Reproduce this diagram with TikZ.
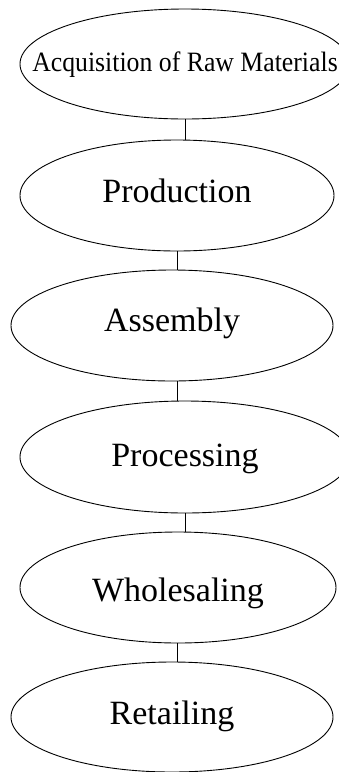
\documentclass[tikz,border=0pt]{standalone}
\usepackage{fontspec}
\setmainfont{Liberation Serif}
\usetikzlibrary{shapes.geometric}
\tikzset{
  stage/.style={draw, ellipse, line width=0.9pt, inner sep=0pt, text height=10pt, text depth=10pt,
    font=\fontsize{34}{40}\selectfont},
  smallstage/.style={stage, font=\fontsize{28}{32}\selectfont},
  link/.style={draw, line width=0.9pt}
}
\newcommand{\zw}[2]{\raisebox{-#1pt}{\makebox[0pt]{#2}}}
\begin{document}
\begin{tikzpicture}[x=1pt,y=-1pt]
\useasboundingbox (0,0) rectangle (338,772);
\node[smallstage, minimum width=330pt, minimum height=110pt] (a) at (185,64) {\zw{7.5}{\scalebox{0.92}[1]{Acquisition of Raw Materials}}};
\node[stage, minimum width=314pt, minimum height=111pt] (b) at (177,195.5) {\zw{6.5}{Production}};
\node[stage, minimum width=322pt, minimum height=111pt] (c) at (172,325.5) {\zw{6}{Assembly}};
\node[stage, minimum width=330pt, minimum height=112pt] (d) at (185,457) {\zw{9.5}{Processing}};
\node[stage, minimum width=316pt, minimum height=111pt] (e) at (178,587.5) {\zw{13.5}{Wholesaling}};
\node[stage, minimum width=322pt, minimum height=110pt] (f) at (172,717) {\zw{7}{Retailing}};
\draw[link] (a.south) -- (a.south |- b.north);
\draw[link] (b.south) -- (b.south |- c.north);
\draw[link] (c.south -| b.south) -- (b.south |- d.north);
\draw[link] (d.south) -- (d.south |- e.north);
\draw[link] (e.south -| b.south) -- (b.south |- f.north);
\end{tikzpicture}
\end{document}
